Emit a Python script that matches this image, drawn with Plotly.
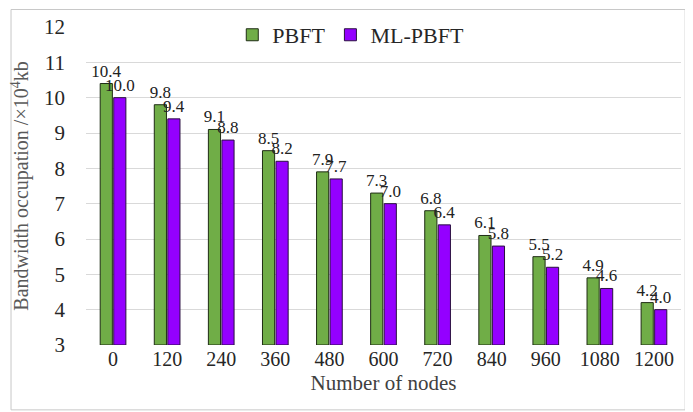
import plotly.graph_objects as go

nodes = ["0", "120", "240", "360", "480", "600", "720", "840", "960", "1080", "1200"]
pbft = [10.4, 9.8, 9.1, 8.5, 7.9, 7.3, 6.8, 6.1, 5.5, 4.9, 4.2]
ml_pbft = [10.0, 9.4, 8.8, 8.2, 7.7, 7.0, 6.4, 5.8, 5.2, 4.6, 4.0]
y_ticks = [3, 4, 5, 6, 7, 8, 9, 10, 11, 12]

font_family = "Liberation Serif, Times New Roman, serif"

fig = go.Figure()
fig.add_trace(go.Bar(
    x=nodes, y=[v - 3 for v in pbft], base=3, name="PBFT",
    marker=dict(color="#70AD47", line=dict(color="#1f2d14", width=1)),
    text=[f"{v:.1f}" for v in pbft], textposition="outside", constraintext="none",
    textfont=dict(family=font_family, size=17, color="#222222"),
    cliponaxis=False,
))
fig.add_trace(go.Bar(
    x=nodes, y=[v - 3 for v in ml_pbft], base=3, name="ML-PBFT",
    marker=dict(color="#9400FF", line=dict(color="#2a1040", width=1)),
    text=[f"{v:.1f}" for v in ml_pbft], textposition="outside", constraintext="none",
    textfont=dict(family=font_family, size=17, color="#222222"),
    cliponaxis=False,
))

fig.update_layout(
    width=685, height=404,
    margin=dict(l=78, r=12, t=19, b=67, autoexpand=False),
    paper_bgcolor="white", plot_bgcolor="white",
    barmode="group", bargap=0.5, bargroupgap=0.1,
    font=dict(family=font_family, color="#262626"),
    showlegend=True,
    legend=dict(orientation="h", x=0.445, xanchor="center", y=0.975, yanchor="middle",
                font=dict(family=font_family, size=22, color="#262626"),
                itemwidth=30,
                bgcolor="rgba(255,255,255,0)", traceorder="normal"),
    xaxis=dict(type="category", showgrid=False, showline=False, ticks="",
               tickfont=dict(family=font_family, size=20, color="#262626"),
               title=dict(text="Number of nodes", standoff=6,
                          font=dict(family=font_family, size=21, color="#404040"))),
    yaxis=dict(range=[3, 12], tickvals=y_ticks, showgrid=True, gridcolor="#d9d9d9",
               gridwidth=1, zeroline=False, showline=False, ticks="",
               tickfont=dict(family=font_family, size=21, color="#262626"),
               ticklabelstandoff=20,
               title=dict(text="Bandwidth occupation /×10<sup>4</sup>kb", standoff=12,
                          font=dict(family=font_family, size=20, color="#595959"))),
    shapes=[dict(type="rect", xref="paper", yref="paper",
                 x0=-0.126, x1=1.007, y0=-0.204, y1=1.055,
                 line=dict(color="#c8c8c8", width=1), layer="below")],
)

fig.write_html("out.html")
